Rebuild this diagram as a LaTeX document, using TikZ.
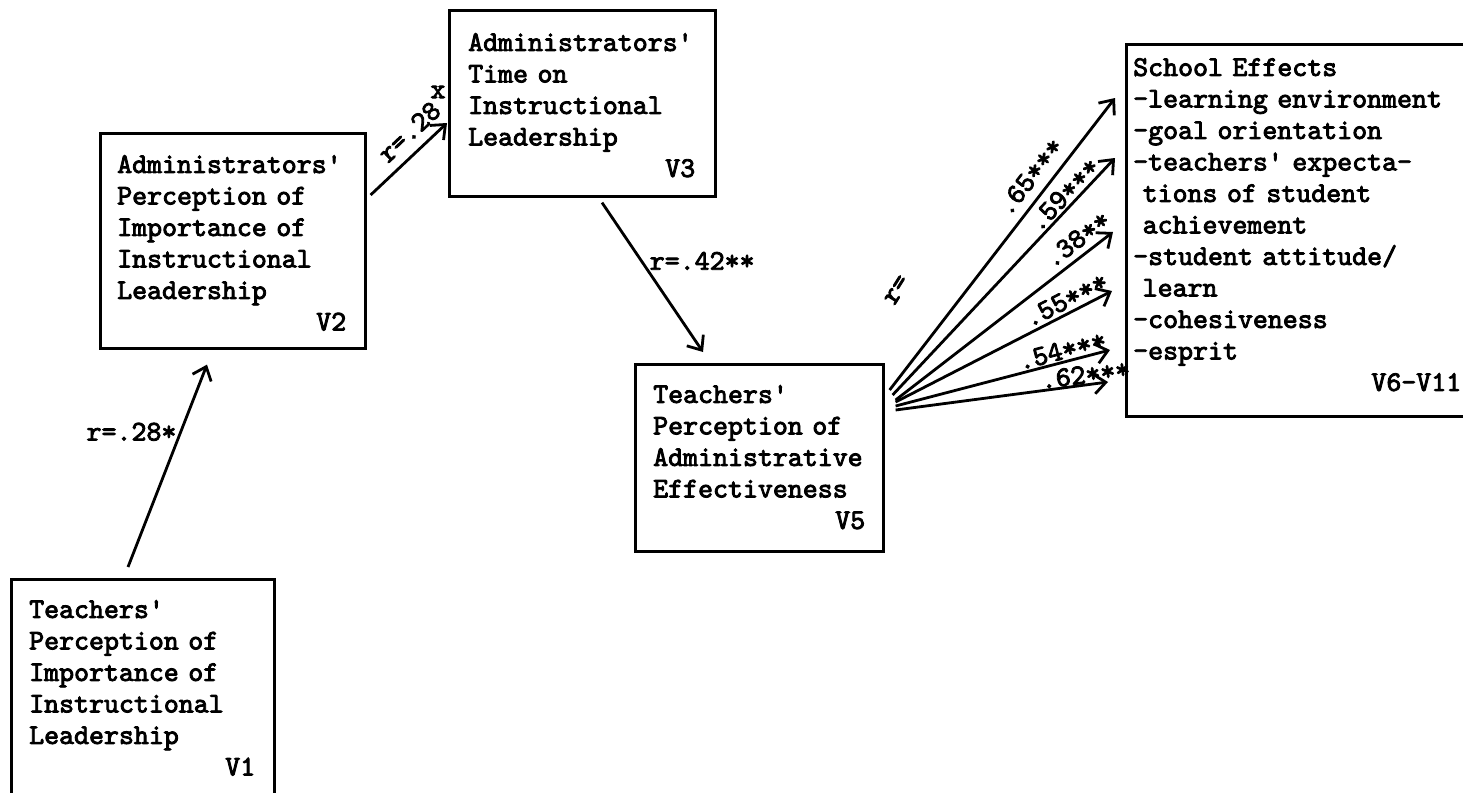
\documentclass[tikz,border=0pt]{standalone}
\usepackage{fontspec}
\newfontfamily\tw{lmmono10-regular}[Extension=.otf,FakeBold=3,WordSpace={1,0,0}]
\usetikzlibrary{arrows.meta,calc}
\newcommand\apo{\textquotesingle}
\begin{document}
\begin{tikzpicture}[x=1pt,y=-1pt,
  box/.style={draw,line width=2.6pt,inner sep=0pt,anchor=north west},
  txt/.style={anchor=north west,inner sep=0pt,align=left,font={\tw\fontsize{28.5}{31.5}\selectfont}},
  lbl/.style={inner sep=0pt,font={\tw\fontsize{28.5}{31.5}\selectfont}},
  arr/.style={line width=2.8pt,-{Straight Barb[length=12pt,width=20pt]}}]
\useasboundingbox (0,0) rectangle (1463,792);
\clip (0,0) rectangle (1463,792);

% boxes
\node[box,minimum width=263pt,minimum height=240pt] (v1) at (10,578) {};
\node[box,minimum width=265pt,minimum height=215pt] (v2) at (99,132) {};
\node[box,minimum width=266pt,minimum height=186pt] (v3) at (448,9) {};
\node[box,minimum width=248pt,minimum height=187pt] (v5) at (634,363) {};
\node[box,minimum width=360pt,minimum height=372pt] (v6) at (1125,43) {};

% texts
\node[txt,text width=226pt] (t1) at ([shift={(19,22)}]v1.north west)
  {Teachers\apo\\Perception of\\Importance of\\Instructional\\Leadership\\\hspace*{\fill}V1};
\node[txt,text width=229pt] (t2) at ([shift={(18,23)}]v2.north west)
  {Administrators\apo\\Perception of\\Importance of\\Instructional\\Leadership\\\hspace*{\fill}V2};
\node[txt,text width=227pt] (t3) at ([shift={(20,24)}]v3.north west)
  {Administrators\apo\\Time on\\Instructional\\Leadership\\\hspace*{\fill}V3};
\node[txt,text width=212pt] (t5) at ([shift={(19,22)}]v5.north west)
  {Teachers\apo\\Perception of\\Administrative\\Effectiveness\\\hspace*{\fill}V5};
\node[txt,text width=328pt] (t6) at ([shift={(8,15)}]v6.north west)
  {School Effects\\-learning environment\\-goal orientation\\-teachers\apo{} expecta-\\~tions of student\\~achievement\\-student attitude/\\~learn\\-cohesiveness\\-esprit\\\hspace*{\fill}V6-V11};

% connectors
\draw[arr] ([shift={(118,-11)}]v1.north west) -- node[lbl,anchor=east,pos=0.668,inner xsep=3pt] {r=.28*} ([shift={(108,15)}]v2.south west);
\draw[arr] ([shift={(4,63)}]v2.north east) -- node[lbl,sloped,above,pos=0.68,inner ysep=9pt] {r=.28} ([shift={(-1,114)}]v3.north west);
\node[lbl] (x28) at (438,92) {x};
\draw[arr] ([shift={(154,5)}]v3.south west) -- node[lbl,anchor=west,pos=0.39,inner xsep=7pt] {r=.42**} ([shift={(69,-11)}]v5.north west);

\draw[arr] ([shift={(5,27)}]v5.north east) -- node[lbl,sloped,above,pos=0.69,inner ysep=9pt] {.65***} ([shift={(-10,55)}]v6.north west);
\draw[arr] ([shift={(8,32)}]v5.north east) -- node[lbl,sloped,above,pos=0.81,inner ysep=2pt] {.59***} ([shift={(-10,115)}]v6.north west);
\draw[arr] ([shift={(11,37)}]v5.north east) -- node[lbl,sloped,above,pos=0.88,inner ysep=6pt] {.38**} ([shift={(-12,189)}]v6.north west);
\draw[arr] ([shift={(11,39)}]v5.north east) -- node[lbl,sloped,above,pos=0.815,inner ysep=3pt] {.55***} ([shift={(-13,248)}]v6.north west);
\draw[arr] ([shift={(11,43)}]v5.north east) -- node[lbl,sloped,above,pos=0.79,inner ysep=1.3pt] {.54***} ([shift={(-15,307)}]v6.north west);
\draw[arr] ([shift={(11,47)}]v5.north east) -- node[lbl,sloped,above,pos=0.90,inner ysep=0pt] {.62***} ([shift={(-17,339)}]v6.north west);
\node[lbl,rotate=58] (req) at (897,290) {r=};
\end{tikzpicture}
\end{document}
